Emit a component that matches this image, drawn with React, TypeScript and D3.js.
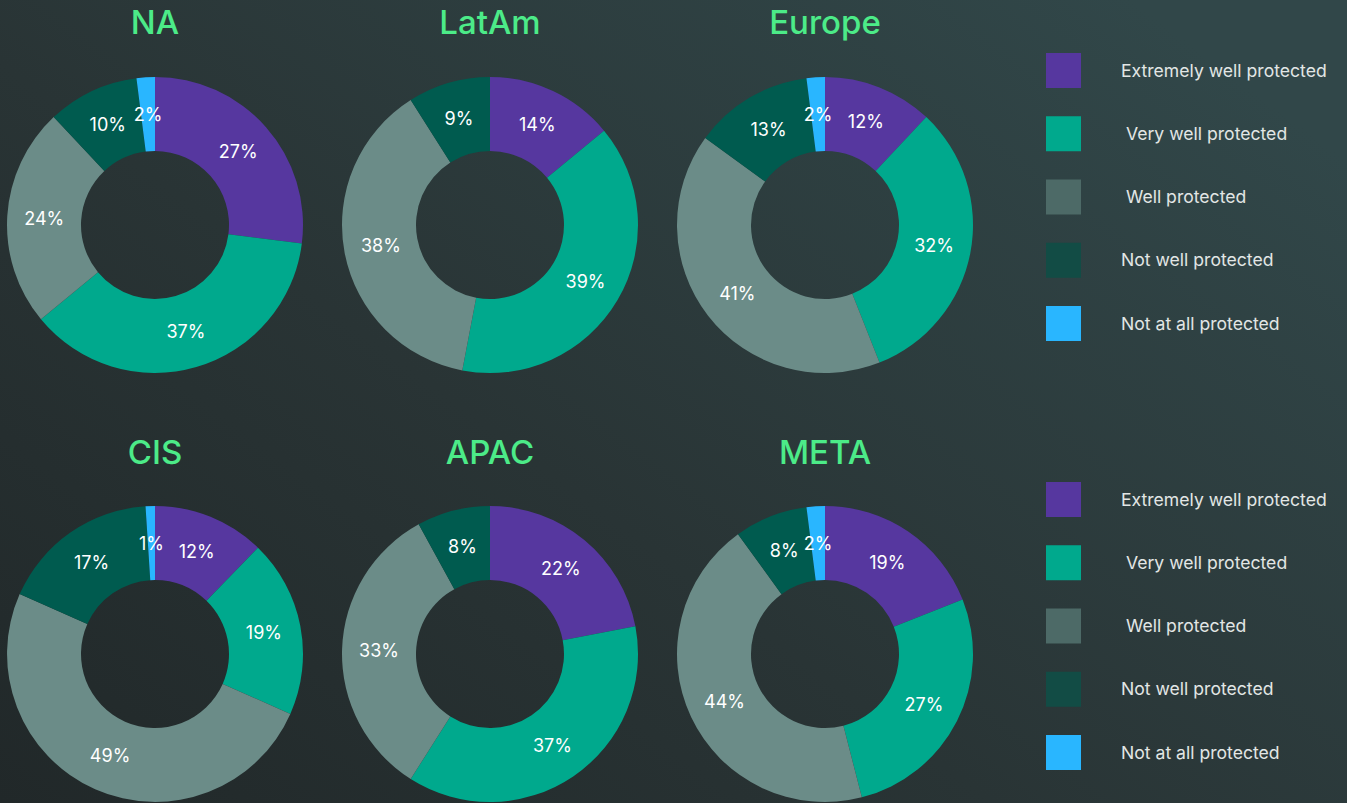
import React from "react";
import * as d3 from "d3";

const categories = [
  "Extremely well protected",
  " Very well protected",
  " Well protected",
  "Not well protected",
  "Not at all protected",
];
const regions = ["NA", "LatAm", "Europe", "CIS", "APAC", "META"];
const naValues = [27, 37, 24, 10, 2];
const latamValues = [14, 39, 38, 9, 0];
const europeValues = [12, 32, 41, 13, 2];
const cisValues = [12, 19, 49, 17, 1];
const apacValues = [22, 37, 33, 8, 0];
const metaValues = [19, 27, 44, 8, 2];
const regionValues = [naValues, latamValues, europeValues, cisValues, apacValues, metaValues];

const sliceColors = ["#56379f", "#00a98d", "#6b8c88", "#005b4f", "#29b6ff"];
const legendColors = ["#56379f", "#00a98d", "#4d6a67", "#124c45", "#29b6ff"];

const W = 1347;
const H = 803;
const font = "Inter, 'Noto Sans', sans-serif";

export default function App() {
  const col = d3.scalePoint<number>().domain([0, 1, 2]).range([155, 825]);
  const rowTitle = [22, 452];
  const rowCenter = [225, 654];
  const outer = 148;
  const inner = 74;
  const pie = d3.pie<number>().sort(null).value((d) => d);
  const arc = d3.arc<d3.PieArcDatum<number>>().innerRadius(inner).outerRadius(outer);

  const legendY = d3.scaleLinear().domain([0, 4]).range([0, 253]);
  const legendTop = [70, 499];

  return (
    <div style={{ position: "fixed", left: 0, top: 0 }}>
      <svg width={W} height={H} style={{ display: "block" }}>
        <defs>
          <linearGradient id="bg" x1="0" y1="1" x2="1" y2="0.2">
            <stop offset="0" stopColor="#212829" />
            <stop offset="0.45" stopColor="#293435" />
            <stop offset="1" stopColor="#314749" />
          </linearGradient>
        </defs>
        <rect width={W} height={H} fill="url(#bg)" />
        {regions.map((name, i) => {
          const cx = col(i % 3)!;
          const r = Math.floor(i / 3);
          const cy = rowCenter[r];
          const arcs = pie(regionValues[i]);
          return (
            <g key={name}>
              <text
                x={cx}
                y={rowTitle[r]}
                textAnchor="middle"
                dominantBaseline="central"
                fill="#4ceb88"
                fontFamily={font}
                fontSize={33}
                fontWeight={500}
              >
                {name}
              </text>
              <g transform={`translate(${cx},${cy})`}>
                {arcs.map((a, j) =>
                  a.value > 0 ? <path key={j} d={arc(a)!} fill={sliceColors[j]} /> : null
                )}
                {arcs.map((a, j) => {
                  if (a.value <= 0) return null;
                  const [lx, ly] = arc.centroid(a);
                  return (
                    <text
                      key={"t" + j}
                      x={lx}
                      y={ly}
                      textAnchor="middle"
                      dominantBaseline="central"
                      fill="#ffffff"
                      fontFamily={font}
                      fontSize={18}
                    >
                      {a.value}%
                    </text>
                  );
                })}
              </g>
            </g>
          );
        })}
        {legendTop.map((top, k) => (
          <g key={"lg" + k}>
            {categories.map((c, j) => (
              <g key={c} transform={`translate(1046,${top + legendY(j)})`}>
                <rect x={0} y={-17} width={35} height={35} fill={legendColors[j]} />
                <text
                  x={75}
                  y={0}
                  dominantBaseline="central"
                  fill="#e2e6e5"
                  fontFamily={font}
                  fontSize={17.6}
                  style={{ whiteSpace: "pre" }}
                >
                  {c}
                </text>
              </g>
            ))}
          </g>
        ))}
      </svg>
    </div>
  );
}
